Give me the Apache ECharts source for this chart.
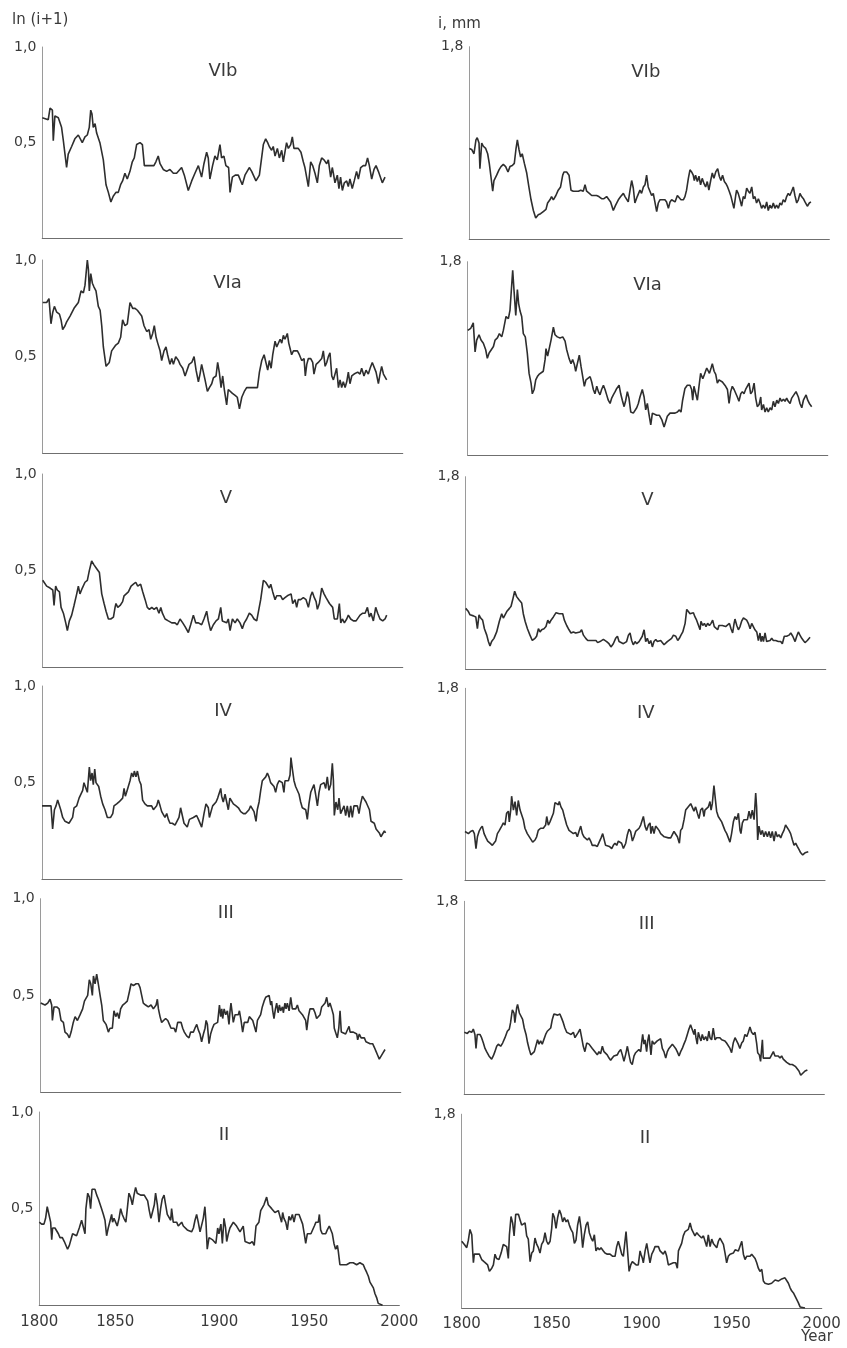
<!DOCTYPE html>
<html>
<head>
<meta charset="utf-8">
<script src="https://cdn.jsdelivr.net/npm/echarts@6/dist/echarts.min.js"></script>
<style>
  html, body { margin: 0; padding: 0; background: #ffffff; }
  #chart { width: 847px; height: 1348px; }
</style>
</head>
<body>
<div id="chart"></div>
<script>
// Tree-ring chronologies, 1800-1990, for six stand groups (VIb ... II).
// Left column: ln(i+1); right column: ring width i in mm. Points are [year, value].

const panelNames = ['VIb', 'VIa', 'V', 'IV', 'III', 'II'];
const yearTicks = [1800, 1850, 1900, 1950, 2000];
const lnTickLabels = { 0.5: '0,5', 1: '1,0' };
const mmTickLabels = { 1.8: '1,8' };

const lnVIb = [[1800,0.63],[1803.3,0.62],[1804.3,0.68],[1805.6,0.67],[1806.1,0.51],[1807,0.64],[1808.9,0.63],[1809.4,0.64],[1810.7,0.58],[1811.7,0.51],[1812.6,0.44],[1813.5,0.37],[1814.4,0.44],[1816.3,0.48],[1818.1,0.52],[1820,0.54],[1820.9,0.53],[1822.2,0.5],[1823.7,0.53],[1825,0.54],[1826.1,0.58],[1826.9,0.67],[1827.6,0.65],[1828.3,0.58],[1829.3,0.6],[1830.2,0.55],[1832,0.5],[1833.9,0.41],[1835.4,0.28],[1836.7,0.24],[1838.1,0.19],[1839.4,0.22],[1840.9,0.24],[1842.2,0.24],[1843.5,0.28],[1844.6,0.3],[1845.9,0.34],[1847.2,0.31],[1848.7,0.35],[1850,0.4],[1851.1,0.42],[1852.4,0.49],[1854.3,0.5],[1855.6,0.49],[1856.7,0.38],[1858,0.38],[1859.8,0.38],[1860.7,0.39],[1862,0.38],[1863.1,0.4],[1864.4,0.43],[1865.4,0.39],[1867.2,0.36],[1869.1,0.35],[1870.9,0.36],[1872.8,0.34],[1874.6,0.34],[1877.4,0.37],[1878.9,0.33],[1881.1,0.25],[1883,0.3],[1884.8,0.34],[1886.7,0.38],[1887.6,0.37],[1888.5,0.32],[1889.8,0.39],[1891.3,0.45],[1892.2,0.42],[1893.1,0.31],[1894.6,0.38],[1895.9,0.43],[1897.2,0.41],[1898.7,0.49],[1899.6,0.42],[1900.9,0.43],[1902,0.38],[1903.5,0.37],[1904.3,0.24],[1905.6,0.32],[1907.2,0.33],[1908.9,0.33],[1909.8,0.34],[1911.1,0.28],[1912.6,0.33],[1913.5,0.32],[1915,0.37],[1916.3,0.35],[1917.2,0.34],[1918.7,0.3],[1920.6,0.33],[1921.5,0.34],[1922.8,0.49],[1924.1,0.52],[1925.2,0.5],[1926.1,0.48],[1927.4,0.46],[1928.3,0.48],[1929.3,0.43],[1930.6,0.47],[1931.7,0.42],[1933,0.46],[1933.9,0.4],[1934.8,0.45],[1935.7,0.5],[1936.7,0.47],[1938,0.49],[1938.9,0.53],[1939.8,0.47],[1940.9,0.48],[1942.2,0.47],[1943.7,0.45],[1945,0.4],[1945.9,0.37],[1946.9,0.36],[1947.8,0.27],[1949.1,0.4],[1950.2,0.38],[1951.5,0.34],[1952.8,0.29],[1953.9,0.38],[1955.2,0.42],[1956.5,0.41],[1958,0.39],[1958.9,0.41],[1960.2,0.32],[1961.1,0.37],[1961.7,0.34],[1962.6,0.29],[1963.9,0.33],[1964.8,0.26],[1965.7,0.32],[1966.7,0.25],[1967.8,0.29],[1969.1,0.3],[1970,0.27],[1970.9,0.31],[1972.2,0.26],[1973.3,0.3],[1974.6,0.35],[1975.6,0.31],[1976.9,0.37],[1978.3,0.38],[1979.6,0.38],[1980.7,0.42],[1981.7,0.38],[1983,0.31],[1984.3,0.36],[1985.4,0.38],[1986.7,0.35],[1987.6,0.34],[1988.9,0.29],[1990.4,0.32]];

const lnVIa = [[1800,0.78],[1802.2,0.78],[1803.5,0.8],[1804.1,0.79],[1804.6,0.67],[1805.6,0.73],[1806.5,0.76],[1807.8,0.73],[1809.3,0.72],[1810.2,0.69],[1811.1,0.64],[1812.4,0.66],[1813.3,0.68],[1814.3,0.67],[1815.2,0.71],[1816.1,0.72],[1817.4,0.75],[1818.5,0.74],[1819.8,0.78],[1820.7,0.78],[1821.3,0.84],[1822.6,0.83],[1823.5,0.87],[1824.8,1.0],[1825.4,0.95],[1825.9,0.84],[1826.7,0.93],[1827.6,0.88],[1828.5,0.86],[1829.6,0.84],[1830.9,0.76],[1831.9,0.74],[1832.8,0.66],[1833.7,0.55],[1835.2,0.45],[1835.9,0.46],[1837,0.47],[1838.3,0.53],[1839.3,0.54],[1840.6,0.56],[1842,0.57],[1843.3,0.6],[1844.4,0.69],[1845.7,0.66],[1847,0.67],[1848.5,0.78],[1850,0.75],[1851.3,0.75],[1852.6,0.74],[1853.7,0.75],[1855,0.71],[1856.3,0.66],[1857.8,0.63],[1859.1,0.64],[1860,0.59],[1861.1,0.62],[1862,0.66],[1863,0.6],[1863.9,0.57],[1865.2,0.53],[1866.1,0.48],[1867.4,0.53],[1868.5,0.55],[1869.4,0.51],[1870.7,0.46],[1871.7,0.49],[1872.6,0.46],[1873.9,0.5],[1875.4,0.48],[1876.3,0.46],[1877.8,0.44],[1879.1,0.4],[1880,0.41],[1881.3,0.46],[1882.8,0.47],[1884.1,0.5],[1885.2,0.43],[1886.5,0.37],[1887.4,0.41],[1888.3,0.46],[1889.3,0.47],[1890.2,0.38],[1891.5,0.32],[1892.6,0.34],[1893.9,0.36],[1894.8,0.39],[1896.3,0.4],[1897.2,0.47],[1898.1,0.42],[1899.1,0.34],[1900,0.4],[1900.9,0.33],[1902.2,0.25],[1903.1,0.33],[1904.1,0.32],[1905.4,0.31],[1906.9,0.3],[1908.1,0.29],[1909.3,0.23],[1910.6,0.29],[1912,0.32],[1913.3,0.34],[1914.8,0.34],[1916.1,0.34],[1917.4,0.34],[1918.5,0.35],[1919.3,0.34],[1920.4,0.42],[1921.7,0.48],[1923,0.51],[1924.1,0.5],[1925,0.43],[1925.9,0.48],[1926.9,0.44],[1927.8,0.51],[1929.1,0.58],[1930,0.55],[1930.9,0.55],[1931.9,0.59],[1932.8,0.57],[1933.7,0.61],[1934.6,0.59],[1935.9,0.62],[1936.7,0.57],[1937.4,0.56],[1938.3,0.51],[1939.3,0.53],[1940.2,0.53],[1941.5,0.53],[1942.6,0.51],[1943.9,0.48],[1945.2,0.49],[1945.9,0.4],[1946.7,0.46],[1947.6,0.49],[1948.9,0.49],[1950,0.47],[1950.7,0.41],[1951.9,0.46],[1953.1,0.47],[1954.1,0.46],[1955,0.49],[1955.9,0.53],[1956.9,0.45],[1957.8,0.47],[1958.7,0.5],[1959.6,0.52],[1960.6,0.4],[1961.5,0.38],[1962.4,0.37],[1963.3,0.44],[1964.3,0.34],[1965.2,0.38],[1966.1,0.34],[1967,0.37],[1968,0.34],[1968.9,0.37],[1969.8,0.42],[1970.7,0.36],[1971.7,0.4],[1973,0.41],[1974.1,0.4],[1975,0.42],[1976.3,0.41],[1977.2,0.44],[1978.5,0.4],[1979.6,0.43],[1980.9,0.41],[1981.9,0.44],[1983.1,0.47],[1984.1,0.46],[1985.2,0.42],[1986.5,0.36],[1987.4,0.41],[1988.3,0.45],[1989.3,0.41],[1991.1,0.38]];

const lnV = [[1800,0.45],[1802.2,0.42],[1804.1,0.41],[1805.6,0.4],[1806.3,0.32],[1807.2,0.42],[1808.1,0.4],[1809.3,0.39],[1810.2,0.31],[1811.5,0.28],[1812.8,0.23],[1813.7,0.19],[1814.8,0.24],[1816.1,0.27],[1817.4,0.32],[1818.9,0.38],[1819.8,0.42],[1820.7,0.38],[1822,0.41],[1823.5,0.44],[1824.8,0.45],[1825.9,0.5],[1827.2,0.55],[1828.5,0.53],[1830,0.51],[1831.5,0.49],[1832.8,0.38],[1834.1,0.33],[1835.2,0.29],[1836.5,0.25],[1837.8,0.25],[1839.3,0.26],[1840.2,0.31],[1840.7,0.33],[1841.7,0.31],[1843,0.32],[1844.4,0.34],[1845.2,0.37],[1846.3,0.36],[1847.6,0.39],[1849.1,0.42],[1850.4,0.43],[1851.7,0.44],[1852.8,0.42],[1853.7,0.41],[1854.4,0.43],[1855.6,0.39],[1856.9,0.35],[1858.1,0.31],[1859.3,0.3],[1860.6,0.31],[1861.9,0.3],[1863.3,0.31],[1864.6,0.28],[1865.6,0.31],[1866.5,0.28],[1868,0.25],[1869.8,0.24],[1871.7,0.23],[1873.5,0.23],[1874.8,0.22],[1876.3,0.25],[1877.8,0.23],[1879.1,0.21],[1880.9,0.18],[1882.2,0.22],[1883.7,0.27],[1885,0.23],[1886.5,0.23],[1888.3,0.22],[1889.6,0.25],[1891.1,0.29],[1892,0.24],[1893.3,0.19],[1894.8,0.22],[1896.3,0.24],[1897.6,0.25],[1898.9,0.31],[1899.8,0.24],[1900.9,0.25],[1902.2,0.23],[1903.1,0.25],[1904.1,0.19],[1905.4,0.25],[1906.9,0.23],[1908.1,0.25],[1909.6,0.23],[1910.9,0.2],[1912,0.23],[1913.3,0.25],[1914.8,0.28],[1916.1,0.27],[1917.4,0.25],[1918.9,0.24],[1919.8,0.25],[1921.1,0.35],[1922.6,0.45],[1923.9,0.44],[1925,0.43],[1925.9,0.41],[1926.7,0.43],[1927.8,0.39],[1929.1,0.35],[1930,0.37],[1930.9,0.36],[1932.2,0.37],[1933.3,0.35],[1934.6,0.36],[1935.9,0.37],[1937,0.36],[1938,0.38],[1938.9,0.33],[1940.2,0.35],[1941.1,0.31],[1942,0.35],[1943.3,0.35],[1944.8,0.36],[1946.3,0.35],[1947.6,0.31],[1948.9,0.37],[1949.8,0.39],[1950.9,0.36],[1951.9,0.34],[1952.6,0.3],[1953.7,0.33],[1955,0.41],[1956.3,0.38],[1957.4,0.36],[1958.3,0.37],[1959.3,0.33],[1960.2,0.34],[1961.1,0.31],[1962,0.25],[1963,0.26],[1963.7,0.25],[1964.8,0.33],[1965.6,0.23],[1966.5,0.25],[1967.6,0.23],[1968.9,0.25],[1969.8,0.27],[1971.1,0.25],[1972.6,0.24],[1974.1,0.24],[1975,0.23],[1976.3,0.27],[1977.8,0.28],[1979.1,0.28],[1980.4,0.31],[1981.5,0.26],[1982.4,0.28],[1983.7,0.24],[1985,0.31],[1986.1,0.28],[1987.4,0.25],[1988.9,0.24],[1990.2,0.25],[1991.1,0.27]];

const lnIV = [[1800,0.38],[1801.7,0.38],[1803,0.38],[1804.1,0.39],[1805,0.38],[1805.9,0.26],[1806.9,0.36],[1807.8,0.38],[1808.7,0.41],[1809.6,0.42],[1810.4,0.36],[1811.5,0.32],[1812.8,0.3],[1813.7,0.29],[1815,0.29],[1816.1,0.28],[1817,0.32],[1817.8,0.37],[1819.3,0.38],[1820.6,0.42],[1821.7,0.43],[1822.6,0.46],[1823.3,0.5],[1824.3,0.49],[1825.2,0.45],[1825.7,0.51],[1826.3,0.58],[1827,0.51],[1827.8,0.55],[1828.5,0.49],[1829.3,0.57],[1830,0.5],[1830.7,0.51],[1831.5,0.48],[1832.6,0.43],[1833.7,0.39],[1835,0.36],[1836.3,0.32],[1837.2,0.31],[1838.1,0.32],[1839.3,0.34],[1840,0.38],[1841.5,0.39],[1842.8,0.4],[1843.7,0.4],[1844.8,0.42],[1845.6,0.47],[1846.3,0.43],[1847,0.45],[1848,0.45],[1848.9,0.51],[1849.8,0.55],[1850.7,0.53],[1851.3,0.56],[1852.2,0.53],[1853,0.56],[1854.1,0.51],[1855,0.49],[1855.9,0.41],[1857.2,0.39],[1858.5,0.38],[1859.6,0.38],[1860.9,0.38],[1861.9,0.36],[1862.8,0.35],[1863.7,0.38],[1864.6,0.41],[1865.6,0.38],[1866.5,0.35],[1867.4,0.34],[1868.3,0.32],[1869.3,0.34],[1870.2,0.31],[1871.1,0.29],[1872.4,0.29],[1873.9,0.28],[1874.8,0.29],[1876.1,0.32],[1877,0.37],[1878.1,0.36],[1878.9,0.29],[1880,0.28],[1880.7,0.27],[1881.9,0.31],[1882.8,0.3],[1884.1,0.32],[1885,0.32],[1885.9,0.33],[1886.9,0.31],[1887.8,0.32],[1888.7,0.27],[1890,0.34],[1891.1,0.39],[1892.4,0.37],[1893,0.32],[1893.9,0.35],[1894.8,0.38],[1895.7,0.39],[1896.7,0.4],[1897.6,0.42],[1898.5,0.43],[1899.3,0.47],[1899.8,0.43],[1900.7,0.4],[1901.7,0.44],[1902.6,0.4],[1903.5,0.36],[1904.4,0.42],[1905.4,0.41],[1906.3,0.39],[1907.8,0.38],[1909.1,0.37],[1910.4,0.35],[1911.9,0.34],[1913.1,0.34],[1914.1,0.34],[1915,0.36],[1915.9,0.38],[1917,0.38],[1917.8,0.35],[1918.9,0.3],[1919.6,0.36],[1920.6,0.4],[1921.5,0.46],[1922.4,0.51],[1923.3,0.52],[1924.3,0.53],[1925.2,0.55],[1926.1,0.53],[1927,0.5],[1928,0.51],[1928.9,0.48],[1929.8,0.45],[1930.7,0.49],[1931.7,0.51],[1932.6,0.51],[1933.5,0.5],[1934.4,0.45],[1935,0.51],[1935.9,0.52],[1936.9,0.51],[1937.8,0.54],[1938.3,0.63],[1939.1,0.57],[1940,0.51],[1940.9,0.48],[1941.9,0.49],[1942.8,0.44],[1943.7,0.4],[1944.6,0.37],[1945.6,0.36],[1946.5,0.36],[1947.4,0.31],[1948.3,0.39],[1949.3,0.45],[1950.2,0.46],[1951.1,0.49],[1952,0.44],[1953,0.38],[1953.9,0.45],[1954.8,0.49],[1955.7,0.48],[1956.7,0.5],[1957.6,0.47],[1958.5,0.53],[1959.4,0.46],[1960.4,0.49],[1961.3,0.6],[1961.9,0.51],[1962.4,0.33],[1963.3,0.4],[1964.3,0.36],[1965,0.42],[1965.9,0.34],[1966.9,0.35],[1967.8,0.38],[1968.7,0.33],[1969.6,0.38],[1970.6,0.32],[1971.5,0.38],[1972.4,0.32],[1973.3,0.38],[1974.3,0.37],[1975.2,0.38],[1976.1,0.34],[1977,0.39],[1978,0.43],[1979.1,0.42],[1980,0.4],[1980.9,0.39],[1981.9,0.36],[1982.8,0.3],[1983.7,0.31],[1984.6,0.29],[1985.6,0.26],[1986.5,0.26],[1987.4,0.24],[1988.3,0.22],[1989.3,0.23],[1990.2,0.25],[1990.9,0.24]];

const lnIII = [[1800,0.46],[1802.4,0.45],[1803.9,0.46],[1805.2,0.48],[1806.1,0.45],[1806.5,0.37],[1807.4,0.44],[1808.9,0.44],[1810.2,0.43],[1811.3,0.37],[1812.6,0.36],[1813.5,0.31],[1814.8,0.3],[1815.9,0.28],[1816.9,0.31],[1818.1,0.36],[1819.1,0.39],[1820.4,0.37],[1821.9,0.4],[1823.3,0.43],[1824.3,0.47],[1825.2,0.47],[1826.1,0.5],[1827,0.58],[1827.8,0.56],[1828.7,0.5],[1829.3,0.6],[1830.2,0.56],[1831.1,0.61],[1832,0.56],[1833,0.5],[1833.9,0.45],[1834.8,0.37],[1836.3,0.35],[1837.6,0.31],[1838.5,0.33],[1839.8,0.33],[1840.7,0.42],[1841.7,0.39],[1842.6,0.41],[1843.5,0.38],[1844.4,0.43],[1845.6,0.45],[1846.9,0.46],[1848.1,0.47],[1849.3,0.52],[1850.2,0.56],[1851.5,0.55],[1853,0.56],[1854.3,0.56],[1855.2,0.54],[1856.1,0.5],[1857,0.46],[1858.3,0.45],[1859.8,0.44],[1861.3,0.45],[1862.6,0.43],[1863.1,0.42],[1864.1,0.45],[1864.8,0.48],[1865.4,0.43],[1866.3,0.39],[1867.2,0.36],[1868.1,0.37],[1869.4,0.38],[1870.6,0.37],[1871.5,0.35],[1872.4,0.33],[1873.3,0.32],[1874.1,0.33],[1875,0.31],[1876.1,0.36],[1877,0.37],[1878,0.36],[1878.9,0.33],[1879.8,0.31],[1881.1,0.29],[1882.4,0.28],[1883.3,0.31],[1884.8,0.31],[1885.7,0.33],[1886.7,0.35],[1887.6,0.32],[1888.5,0.3],[1889.4,0.26],[1890.4,0.3],[1891.3,0.33],[1891.9,0.37],[1892.6,0.35],[1893.5,0.25],[1894.4,0.3],[1895.4,0.33],[1896.3,0.35],[1897.4,0.34],[1898.3,0.36],[1899.3,0.45],[1900,0.39],[1900.6,0.43],[1901.1,0.38],[1901.9,0.43],[1902.8,0.4],[1903.7,0.42],[1904.6,0.35],[1905.2,0.42],[1905.7,0.46],[1906.5,0.4],[1907,0.36],[1908,0.4],[1908.9,0.41],[1909.8,0.4],[1910.4,0.42],[1911.3,0.37],[1912.2,0.31],[1913.1,0.36],[1914.1,0.37],[1915,0.36],[1915.9,0.39],[1916.9,0.4],[1917.8,0.37],[1918.7,0.34],[1919.6,0.31],[1920.4,0.37],[1921.3,0.38],[1922.2,0.4],[1923.1,0.44],[1924.1,0.47],[1925,0.49],[1925.9,0.5],[1926.9,0.5],[1927.8,0.45],[1928.3,0.47],[1928.9,0.42],[1929.6,0.38],[1930.4,0.43],[1931.1,0.46],[1931.9,0.41],[1932.6,0.45],[1933.3,0.42],[1934.3,0.44],[1934.8,0.41],[1935.7,0.46],[1936.3,0.43],[1937,0.46],[1938,0.42],[1938.9,0.49],[1939.8,0.43],[1940.7,0.43],[1941.7,0.43],[1942.6,0.45],[1943.5,0.42],[1944.4,0.41],[1945.4,0.4],[1946.3,0.39],[1947.2,0.37],[1947.8,0.32],[1948.7,0.39],[1949.6,0.43],[1950.6,0.43],[1951.5,0.43],[1952.4,0.41],[1953.3,0.38],[1954.3,0.37],[1955.2,0.4],[1956.1,0.44],[1957,0.43],[1958,0.46],[1958.9,0.49],[1959.8,0.44],[1960.7,0.46],[1961.7,0.43],[1962.6,0.4],[1963.1,0.33],[1964.1,0.32],[1964.8,0.28],[1965.6,0.33],[1966.3,0.42],[1967,0.31],[1968.1,0.3],[1969.4,0.3],[1970.4,0.3],[1971.3,0.34],[1971.9,0.31],[1972.8,0.3],[1973.7,0.31],[1974.6,0.31],[1975.6,0.3],[1976.1,0.27],[1977,0.3],[1978,0.28],[1978.9,0.27],[1979.8,0.28],[1980.7,0.26],[1981.7,0.25],[1983,0.25],[1984.4,0.25],[1985.4,0.23],[1986.3,0.21],[1987.2,0.19],[1988.1,0.17],[1989.1,0.18],[1990,0.2],[1991.3,0.22]];

const lnII = [[1800,0.43],[1801.3,0.42],[1802.6,0.42],[1803.5,0.45],[1804.4,0.51],[1805.4,0.5],[1806.3,0.43],[1806.9,0.34],[1807.4,0.4],[1808.7,0.4],[1809.6,0.4],[1810.6,0.37],[1811.5,0.35],[1812.8,0.35],[1813.9,0.33],[1814.8,0.32],[1815.7,0.29],[1816.7,0.31],[1817.6,0.31],[1818.5,0.37],[1819.4,0.37],[1820.7,0.36],[1822.2,0.4],[1823.5,0.44],[1824.4,0.45],[1825.4,0.37],[1825.9,0.5],[1826.9,0.58],[1827.8,0.56],[1828.5,0.5],[1829.3,0.6],[1830,0.61],[1830.9,0.6],[1831.9,0.57],[1832.8,0.55],[1833.7,0.56],[1834.6,0.5],[1835.6,0.47],[1836.5,0.44],[1837.4,0.36],[1838.3,0.4],[1839.3,0.41],[1840.2,0.47],[1840.7,0.43],[1841.5,0.45],[1842.4,0.43],[1843.3,0.41],[1844.3,0.45],[1845.2,0.5],[1846.1,0.47],[1847,0.45],[1848.1,0.43],[1848.9,0.5],[1849.8,0.58],[1850.7,0.56],[1851.7,0.52],[1852.6,0.57],[1853.5,0.61],[1854.4,0.58],[1855.4,0.59],[1856.3,0.57],[1857.4,0.58],[1858.3,0.57],[1859.3,0.56],[1860.2,0.54],[1861.1,0.49],[1862,0.45],[1863,0.44],[1863.9,0.52],[1864.6,0.58],[1865.6,0.52],[1866.5,0.43],[1867.4,0.5],[1868.3,0.55],[1869.3,0.57],[1870.2,0.52],[1871.1,0.47],[1872,0.46],[1873,0.44],[1873.5,0.5],[1874.4,0.43],[1875.4,0.42],[1876.3,0.43],[1877.2,0.41],[1878.1,0.41],[1879.1,0.43],[1880,0.41],[1880.9,0.4],[1882.2,0.39],[1883.3,0.38],[1884.6,0.38],[1885.6,0.4],[1886.5,0.44],[1887.4,0.47],[1888.3,0.43],[1889.3,0.38],[1890.2,0.37],[1891.1,0.45],[1892,0.51],[1892.6,0.43],[1893.3,0.29],[1894.3,0.35],[1895.2,0.36],[1896.1,0.34],[1897,0.33],[1898.1,0.32],[1899.1,0.4],[1899.8,0.37],[1900.4,0.36],[1900.9,0.42],[1901.7,0.32],[1902.6,0.45],[1903.5,0.4],[1904.1,0.33],[1905,0.37],[1905.9,0.4],[1906.9,0.39],[1907.8,0.43],[1908.7,0.42],[1909.6,0.41],[1910.6,0.42],[1911.5,0.38],[1912.4,0.39],[1913.3,0.41],[1914.3,0.33],[1915.2,0.32],[1917,0.32],[1918.3,0.33],[1919.4,0.31],[1920.4,0.41],[1921.1,0.42],[1922,0.43],[1923,0.49],[1923.9,0.5],[1924.8,0.52],[1925.7,0.51],[1926.3,0.56],[1927.2,0.52],[1928.1,0.53],[1929.1,0.5],[1930,0.49],[1930.9,0.48],[1931.9,0.48],[1932.8,0.49],[1933.7,0.46],[1934.6,0.43],[1935.2,0.48],[1935.9,0.45],[1936.9,0.43],[1937.8,0.39],[1938.7,0.46],[1939.6,0.44],[1940.6,0.47],[1941.5,0.43],[1942.4,0.47],[1943.3,0.47],[1944.3,0.47],[1945.4,0.47],[1946.3,0.42],[1947.2,0.37],[1948,0.32],[1948.9,0.37],[1950,0.38],[1950.9,0.37],[1951.9,0.38],[1952.8,0.41],[1953.7,0.43],[1954.4,0.42],[1955,0.43],[1955.6,0.47],[1956.3,0.39],[1957.2,0.37],[1958.1,0.37],[1959.1,0.37],[1960,0.39],[1961.1,0.41],[1961.9,0.4],[1962.8,0.37],[1963.7,0.32],[1964.6,0.29],[1965.6,0.31],[1966.1,0.28],[1967,0.21],[1968,0.2],[1968.9,0.21],[1969.8,0.2],[1970.7,0.21],[1971.7,0.2],[1972.6,0.22],[1973.5,0.23],[1974.4,0.22],[1975.4,0.21],[1976.3,0.21],[1977.2,0.22],[1978.1,0.22],[1979.1,0.22],[1980,0.21],[1980.9,0.19],[1981.9,0.17],[1982.8,0.15],[1983.7,0.12],[1984.6,0.12],[1985.6,0.09],[1986.5,0.06],[1987.4,0.04],[1988.3,0.01],[1989.3,0],[1990.7,0]];

const mmVIb = [[1800,0.85],[1801.3,0.84],[1802.6,0.8],[1803.7,0.93],[1804.4,0.95],[1805.4,0.9],[1805.9,0.66],[1806.9,0.9],[1807.8,0.87],[1809.1,0.85],[1810.2,0.8],[1811.1,0.71],[1812,0.59],[1813,0.45],[1813.7,0.55],[1815.2,0.6],[1816.5,0.65],[1817.6,0.68],[1818.9,0.7],[1820.2,0.68],[1821.5,0.63],[1822.6,0.68],[1823.9,0.69],[1825,0.71],[1825.9,0.84],[1826.7,0.93],[1827.6,0.84],[1828.5,0.77],[1829.4,0.8],[1830.6,0.71],[1831.9,0.62],[1833.1,0.49],[1834.3,0.37],[1835.6,0.27],[1836.9,0.2],[1838.3,0.23],[1839.6,0.24],[1841.1,0.26],[1842.6,0.28],[1843.5,0.34],[1844.8,0.37],[1845.7,0.4],[1846.7,0.37],[1848.1,0.41],[1849.4,0.46],[1850.7,0.49],[1851.9,0.6],[1852.6,0.63],[1854.1,0.63],[1855.4,0.6],[1856.5,0.46],[1857.8,0.45],[1859.3,0.45],[1860.6,0.45],[1861.9,0.46],[1863.3,0.45],[1864.3,0.51],[1865.2,0.45],[1866.7,0.43],[1868,0.41],[1869.3,0.41],[1870.7,0.41],[1872,0.4],[1873.5,0.38],[1874.8,0.38],[1876.3,0.4],[1877.2,0.41],[1878.5,0.35],[1880,0.27],[1881.3,0.32],[1882.8,0.37],[1884.1,0.4],[1885.6,0.43],[1886.5,0.4],[1887.4,0.41],[1888.3,0.35],[1889.3,0.46],[1890.2,0.55],[1891.1,0.48],[1892,0.34],[1893.3,0.4],[1894.8,0.46],[1895.7,0.43],[1896.7,0.49],[1897.6,0.51],[1898.5,0.6],[1899.4,0.49],[1900.4,0.48],[1901.3,0.41],[1902.2,0.43],[1903.1,0.35],[1904.1,0.26],[1905,0.34],[1905.9,0.37],[1907.4,0.37],[1908.7,0.37],[1909.6,0.35],[1910.6,0.29],[1911.5,0.35],[1912.4,0.37],[1913.3,0.38],[1914.3,0.35],[1915.6,0.41],[1916.7,0.41],[1917.6,0.37],[1918.9,0.37],[1919.8,0.4],[1920.7,0.46],[1921.7,0.57],[1922.6,0.65],[1923.5,0.63],[1924.4,0.6],[1925,0.55],[1925.7,0.6],[1926.7,0.54],[1927.6,0.59],[1928.5,0.51],[1929.4,0.57],[1930.4,0.52],[1931.3,0.49],[1932.2,0.54],[1933.1,0.46],[1934.1,0.55],[1935,0.62],[1935.9,0.57],[1936.9,0.63],[1938,0.66],[1938.9,0.59],[1939.8,0.55],[1940.7,0.6],[1941.7,0.54],[1942.6,0.52],[1943.5,0.49],[1944.4,0.45],[1945.4,0.4],[1946.3,0.41],[1947,0.29],[1948,0.41],[1948.5,0.46],[1949.4,0.43],[1950.4,0.37],[1951.3,0.31],[1952.2,0.4],[1953.1,0.38],[1954.1,0.48],[1955,0.45],[1955.9,0.43],[1956.9,0.49],[1957.8,0.38],[1958.7,0.4],[1959.6,0.34],[1960.6,0.38],[1961.5,0.34],[1962.4,0.29],[1963.3,0.32],[1964.3,0.29],[1965.2,0.35],[1966.1,0.27],[1967,0.32],[1968,0.29],[1968.9,0.34],[1969.8,0.29],[1970.7,0.32],[1971.7,0.29],[1972.6,0.34],[1973.5,0.32],[1974.4,0.37],[1975.4,0.35],[1976.3,0.4],[1977.2,0.43],[1978.1,0.41],[1979.1,0.45],[1980,0.49],[1980.9,0.41],[1981.9,0.34],[1982.8,0.37],[1983.7,0.43],[1984.6,0.4],[1985.6,0.38],[1986.5,0.35],[1987.8,0.31],[1988.9,0.34],[1989.8,0.35]];

const mmVIa = [[1800,1.16],[1801.7,1.18],[1803.1,1.23],[1804.1,0.96],[1805,1.07],[1806.3,1.12],[1807.4,1.07],[1808.7,1.04],[1810,0.98],[1810.9,0.9],[1811.9,0.95],[1813,0.96],[1814.3,1.01],[1815.2,1.07],[1816.5,1.09],[1817.6,1.13],[1818.9,1.1],[1819.8,1.16],[1821.3,1.29],[1822.6,1.27],[1823.5,1.35],[1825,1.72],[1825.7,1.54],[1826.7,1.3],[1827.6,1.54],[1828.3,1.41],[1829.1,1.34],[1830,1.29],[1830.9,1.13],[1832,1.1],[1833.1,0.95],[1834.1,0.76],[1835.2,0.67],[1835.9,0.57],[1836.9,0.61],[1837.8,0.7],[1838.7,0.73],[1839.6,0.75],[1840.7,0.76],[1842,0.78],[1843,0.89],[1843.5,0.99],[1844.4,0.92],[1845.4,0.93],[1846.3,1.07],[1847.6,1.19],[1848.5,1.12],[1849.8,1.1],[1851.3,1.09],[1852.8,1.1],[1854.1,1.06],[1855,0.98],[1856.3,0.9],[1857.4,0.85],[1858.3,0.89],[1859.3,0.84],[1860,0.78],[1860.9,0.85],[1862,0.93],[1863,0.82],[1863.9,0.73],[1864.8,0.64],[1865.7,0.7],[1866.7,0.71],[1868,0.73],[1868.9,0.68],[1869.8,0.61],[1870.7,0.57],[1871.7,0.64],[1872.6,0.59],[1873.5,0.56],[1874.4,0.61],[1875.4,0.65],[1876.3,0.61],[1877.2,0.56],[1878.1,0.51],[1879.1,0.48],[1880,0.53],[1880.9,0.56],[1881.9,0.59],[1882.8,0.62],[1884.1,0.65],[1885,0.57],[1885.9,0.51],[1886.9,0.45],[1887.8,0.51],[1888.7,0.59],[1889.6,0.53],[1890.6,0.4],[1892,0.39],[1893,0.4],[1893.9,0.44],[1894.8,0.48],[1895.7,0.54],[1897,0.61],[1898,0.54],[1898.9,0.42],[1899.8,0.48],[1900.6,0.39],[1901.7,0.28],[1902.6,0.39],[1903.5,0.39],[1905,0.37],[1906.5,0.37],[1907.8,0.33],[1909.1,0.26],[1910,0.31],[1910.9,0.36],[1912.4,0.39],[1913.9,0.39],[1915.2,0.39],[1916.5,0.4],[1917.6,0.42],[1918.5,0.4],[1919.4,0.51],[1920.7,0.62],[1922,0.65],[1923.5,0.65],[1924.4,0.61],[1925,0.51],[1925.7,0.64],[1926.7,0.57],[1927.6,0.51],[1928.5,0.64],[1929.4,0.76],[1930.6,0.71],[1931.5,0.75],[1932.8,0.81],[1933.7,0.82],[1934.3,0.76],[1935.2,0.81],[1935.9,0.85],[1936.9,0.78],[1937.8,0.75],[1938.7,0.67],[1939.6,0.7],[1940.6,0.71],[1941.5,0.68],[1942.4,0.67],[1943.3,0.64],[1944.3,0.61],[1945.2,0.48],[1946.1,0.59],[1947,0.64],[1948,0.61],[1948.9,0.61],[1949.8,0.54],[1950.7,0.5],[1951.7,0.57],[1952.6,0.59],[1953.5,0.57],[1954.4,0.61],[1955.4,0.62],[1956.3,0.67],[1957.2,0.57],[1958.1,0.59],[1959.1,0.67],[1960,0.53],[1960.9,0.45],[1961.9,0.47],[1962.8,0.54],[1963.3,0.42],[1964.3,0.47],[1965.2,0.4],[1966.1,0.44],[1967,0.4],[1968,0.44],[1968.9,0.42],[1969.8,0.5],[1970.7,0.45],[1971.7,0.51],[1972.6,0.48],[1973.5,0.53],[1974.4,0.5],[1975.4,0.52],[1976.3,0.5],[1977.2,0.53],[1978.1,0.5],[1979.1,0.48],[1980,0.53],[1980.9,0.54],[1982.4,0.59],[1983.7,0.54],[1984.6,0.48],[1985.6,0.44],[1986.5,0.51],[1988,0.56],[1988.9,0.51],[1989.8,0.48],[1991.1,0.45]];

const mmV = [[1800,0.57],[1801.5,0.54],[1802.4,0.51],[1804.3,0.5],[1805.6,0.49],[1806.5,0.38],[1807.4,0.51],[1808.3,0.48],[1809.4,0.46],[1810.4,0.38],[1811.7,0.32],[1812.6,0.26],[1813.5,0.22],[1814.4,0.26],[1815.7,0.29],[1817.2,0.35],[1818.7,0.45],[1820,0.52],[1820.9,0.48],[1821.9,0.48],[1822.8,0.54],[1824.3,0.57],[1825.2,0.59],[1826.1,0.65],[1827.2,0.73],[1828.3,0.68],[1829.6,0.65],[1831.1,0.62],[1832,0.52],[1833,0.45],[1834.3,0.38],[1835.7,0.32],[1837,0.27],[1838.5,0.29],[1839.4,0.31],[1840.4,0.38],[1841.3,0.35],[1842.2,0.37],[1843.5,0.38],[1844.6,0.4],[1845.6,0.46],[1846.5,0.43],[1847.4,0.46],[1848.7,0.49],[1850.2,0.53],[1851.1,0.54],[1852,0.52],[1853,0.51],[1853.9,0.52],[1854.8,0.46],[1856.1,0.41],[1857.4,0.37],[1858.5,0.34],[1859.8,0.35],[1861.1,0.34],[1862.2,0.34],[1863.5,0.35],[1864.4,0.37],[1865.4,0.32],[1866.7,0.29],[1867.8,0.27],[1869.1,0.27],[1870.4,0.27],[1871.3,0.26],[1872.4,0.27],[1873.3,0.25],[1874.6,0.26],[1875.6,0.27],[1876.5,0.28],[1877.4,0.27],[1878.3,0.26],[1879.6,0.24],[1880.7,0.21],[1882,0.24],[1883.3,0.29],[1884.3,0.31],[1885.2,0.26],[1886.3,0.26],[1887.6,0.24],[1888.5,0.23],[1889.4,0.26],[1890.4,0.32],[1891.3,0.34],[1892.2,0.27],[1893.1,0.23],[1894.1,0.26],[1895,0.24],[1896.3,0.26],[1897.2,0.27],[1898.1,0.31],[1899.1,0.37],[1900,0.26],[1900.9,0.29],[1901.9,0.24],[1902.8,0.27],[1903.7,0.21],[1904.6,0.26],[1905.6,0.28],[1906.5,0.26],[1907.4,0.26],[1908.3,0.27],[1909.3,0.26],[1910.2,0.23],[1911.1,0.24],[1912,0.26],[1913.1,0.27],[1914.4,0.29],[1915.4,0.32],[1916.7,0.31],[1917.8,0.27],[1918.7,0.29],[1919.6,0.32],[1920.6,0.35],[1921.9,0.43],[1922.8,0.56],[1923.7,0.54],[1924.6,0.52],[1925.6,0.52],[1926.5,0.53],[1927.4,0.49],[1928.3,0.46],[1929.3,0.45],[1930.2,0.37],[1930.7,0.45],[1931.7,0.41],[1932.6,0.43],[1933.5,0.4],[1934.4,0.43],[1935.4,0.41],[1936.3,0.43],[1937.2,0.46],[1938.1,0.4],[1939.1,0.4],[1940,0.37],[1940.7,0.41],[1941.7,0.4],[1942.6,0.41],[1943.5,0.41],[1944.4,0.4],[1945.4,0.41],[1946.5,0.43],[1947.4,0.38],[1948.3,0.34],[1949.1,0.43],[1949.6,0.47],[1950.6,0.41],[1951.5,0.37],[1952.4,0.4],[1953.3,0.45],[1954.3,0.48],[1955.2,0.49],[1956.1,0.46],[1957,0.43],[1958,0.38],[1958.9,0.43],[1959.8,0.4],[1960.7,0.37],[1961.7,0.35],[1962.6,0.27],[1963.5,0.34],[1964.1,0.26],[1964.8,0.31],[1965.4,0.26],[1966.3,0.34],[1967.2,0.26],[1968.1,0.25],[1969.1,0.27],[1970,0.29],[1970.9,0.27],[1972.2,0.27],[1973.7,0.26],[1975,0.26],[1975.9,0.24],[1977,0.31],[1978.3,0.31],[1979.6,0.32],[1980.6,0.34],[1981.7,0.31],[1983,0.26],[1983.9,0.31],[1984.8,0.35],[1985.7,0.32],[1986.7,0.29],[1987.6,0.27],[1988.5,0.25],[1989.8,0.27],[1991.3,0.3]];

const mmIV = [[1800,0.46],[1801.9,0.44],[1803.1,0.46],[1804.3,0.47],[1805.2,0.44],[1806.1,0.3],[1806.9,0.41],[1807.8,0.46],[1808.7,0.49],[1809.6,0.51],[1810.6,0.44],[1811.7,0.4],[1812.6,0.37],[1813.9,0.35],[1815.2,0.33],[1816.1,0.32],[1817,0.37],[1818,0.44],[1819.1,0.47],[1820.4,0.51],[1821.3,0.54],[1822.2,0.52],[1823.1,0.63],[1824.1,0.65],[1824.6,0.55],[1825.4,0.66],[1825.9,0.79],[1826.9,0.66],[1827.8,0.74],[1828.7,0.61],[1829.6,0.75],[1830.6,0.66],[1831.5,0.66],[1832.4,0.57],[1833.3,0.49],[1834.6,0.44],[1836.1,0.4],[1837.6,0.36],[1838.9,0.38],[1839.8,0.41],[1840.7,0.47],[1842,0.49],[1843.5,0.49],[1844.8,0.52],[1845.4,0.6],[1846.3,0.52],[1847.2,0.55],[1848.1,0.55],[1849.1,0.63],[1850,0.73],[1850.9,0.72],[1851.9,0.71],[1852.4,0.74],[1853.3,0.69],[1854.3,0.66],[1855.2,0.6],[1856.5,0.52],[1857.8,0.47],[1858.9,0.46],[1860.2,0.44],[1861.5,0.45],[1862.4,0.41],[1863.3,0.46],[1864.3,0.51],[1865.2,0.44],[1866.1,0.41],[1867,0.4],[1868,0.38],[1868.9,0.4],[1869.8,0.37],[1870.7,0.33],[1872.2,0.33],[1873.5,0.32],[1874.6,0.33],[1875.6,0.4],[1876.5,0.44],[1877.4,0.43],[1878.1,0.33],[1879.1,0.32],[1880.2,0.32],[1881.5,0.3],[1882.4,0.33],[1883.3,0.35],[1884.3,0.33],[1885.2,0.37],[1886.1,0.38],[1887,0.35],[1888,0.3],[1889.3,0.35],[1890.2,0.43],[1891.1,0.48],[1892,0.46],[1893,0.37],[1893.9,0.41],[1894.8,0.46],[1895.7,0.47],[1896.7,0.49],[1897.6,0.52],[1898.5,0.53],[1899.1,0.6],[1900,0.51],[1900.9,0.47],[1901.9,0.52],[1902.8,0.54],[1903.3,0.44],[1904.1,0.51],[1905,0.44],[1905.9,0.51],[1906.9,0.49],[1907.8,0.47],[1908.7,0.44],[1909.6,0.43],[1910.7,0.41],[1911.7,0.4],[1913,0.4],[1914.3,0.4],[1915.2,0.41],[1916.1,0.46],[1917,0.46],[1918,0.41],[1919.1,0.35],[1919.8,0.47],[1920.7,0.49],[1921.7,0.57],[1922.6,0.66],[1923.5,0.68],[1924.4,0.69],[1925.4,0.72],[1926.3,0.71],[1927.2,0.65],[1928.1,0.69],[1929.1,0.63],[1930,0.58],[1930.9,0.66],[1931.9,0.68],[1932.8,0.6],[1933.3,0.66],[1934.3,0.66],[1935.2,0.69],[1936.1,0.74],[1936.7,0.66],[1937.4,0.72],[1938.3,0.89],[1939.1,0.76],[1939.8,0.65],[1940.7,0.6],[1941.7,0.61],[1942.6,0.55],[1943.5,0.51],[1944.4,0.47],[1945.4,0.44],[1946.3,0.43],[1947.2,0.36],[1948.1,0.44],[1949.1,0.55],[1950,0.6],[1950.9,0.57],[1951.9,0.63],[1952.8,0.47],[1953.3,0.44],[1954.1,0.54],[1955,0.57],[1955.9,0.58],[1956.9,0.57],[1957.8,0.65],[1958.7,0.58],[1959.6,0.66],[1960.6,0.57],[1961.5,0.82],[1962,0.69],[1962.6,0.38],[1963.3,0.51],[1964.3,0.43],[1965.2,0.47],[1966.1,0.41],[1967,0.46],[1968,0.41],[1968.9,0.46],[1969.8,0.4],[1970.7,0.46],[1971.7,0.37],[1972.6,0.46],[1973.5,0.41],[1974.4,0.43],[1975.4,0.4],[1976.3,0.44],[1977.2,0.47],[1978.1,0.52],[1979.1,0.51],[1980,0.47],[1980.9,0.44],[1981.9,0.38],[1982.8,0.33],[1983.7,0.35],[1984.6,0.32],[1985.6,0.29],[1986.5,0.26],[1987.6,0.24],[1988.9,0.26],[1989.8,0.26],[1990.7,0.27]];

const mmIII = [[1800,0.58],[1801.7,0.57],[1802.8,0.59],[1804.1,0.58],[1805,0.61],[1805.9,0.56],[1806.5,0.43],[1807.2,0.56],[1808.7,0.56],[1809.6,0.53],[1810.6,0.48],[1811.5,0.43],[1812.4,0.4],[1813.7,0.36],[1815.2,0.33],[1816.1,0.36],[1817,0.4],[1818,0.45],[1818.9,0.47],[1820.2,0.45],[1821.3,0.48],[1822.6,0.53],[1823.9,0.59],[1825,0.61],[1825.7,0.67],[1826.7,0.79],[1827.6,0.76],[1828.1,0.67],[1829.1,0.81],[1829.6,0.84],[1830.6,0.76],[1831.5,0.76],[1832.4,0.7],[1833.3,0.62],[1834.3,0.56],[1835.2,0.48],[1836.1,0.42],[1837,0.37],[1838,0.36],[1838.9,0.4],[1839.8,0.39],[1840.7,0.51],[1841.5,0.47],[1842.4,0.5],[1843.3,0.47],[1844.3,0.48],[1845.2,0.56],[1846.1,0.59],[1847,0.58],[1848,0.62],[1848.9,0.7],[1849.8,0.75],[1850.9,0.75],[1851.9,0.74],[1853.1,0.75],[1854.1,0.71],[1855,0.67],[1855.9,0.62],[1856.9,0.58],[1858.1,0.57],[1859.3,0.56],[1860.6,0.58],[1861.5,0.53],[1862.4,0.54],[1863.3,0.58],[1864.3,0.61],[1865.2,0.53],[1866.1,0.45],[1867,0.4],[1868,0.48],[1869.3,0.47],[1870.2,0.47],[1871.1,0.43],[1872,0.42],[1873,0.39],[1873.9,0.37],[1874.8,0.4],[1875.7,0.38],[1876.7,0.45],[1877.6,0.4],[1878.5,0.39],[1879.4,0.37],[1880.4,0.34],[1881.3,0.32],[1882.2,0.34],[1883.1,0.36],[1884.1,0.37],[1885,0.37],[1885.9,0.4],[1886.9,0.42],[1887.8,0.37],[1888.7,0.31],[1889.6,0.37],[1890.6,0.45],[1891.5,0.37],[1892.4,0.3],[1893.3,0.28],[1894.3,0.36],[1895.2,0.39],[1896.1,0.4],[1897,0.42],[1898,0.4],[1898.5,0.48],[1899.1,0.56],[1899.8,0.47],[1900.4,0.51],[1901.3,0.4],[1901.9,0.5],[1902.6,0.56],[1903.1,0.47],[1903.7,0.37],[1904.4,0.5],[1905.4,0.47],[1906.3,0.48],[1907.2,0.5],[1908.1,0.5],[1909.1,0.52],[1910,0.43],[1910.9,0.4],[1911.9,0.34],[1912.8,0.4],[1913.7,0.43],[1914.6,0.43],[1915.6,0.47],[1916.5,0.48],[1917.4,0.43],[1918.3,0.4],[1919.3,0.36],[1920.2,0.4],[1921.1,0.43],[1922,0.47],[1923,0.51],[1923.9,0.56],[1924.8,0.61],[1925.7,0.65],[1926.7,0.64],[1927.6,0.56],[1928.1,0.61],[1928.7,0.53],[1929.4,0.47],[1930,0.58],[1930.9,0.53],[1931.5,0.5],[1932.2,0.56],[1933.1,0.51],[1934.1,0.54],[1935,0.5],[1935.9,0.59],[1936.5,0.53],[1937.4,0.51],[1938.3,0.62],[1939.3,0.51],[1940.2,0.53],[1941.1,0.54],[1942,0.53],[1943,0.51],[1943.9,0.51],[1944.8,0.5],[1945.7,0.48],[1946.7,0.47],[1947.6,0.43],[1948.5,0.39],[1949.4,0.48],[1950.4,0.53],[1951.3,0.53],[1952.2,0.47],[1953.1,0.43],[1954.1,0.48],[1955,0.5],[1955.9,0.56],[1956.9,0.54],[1957.8,0.58],[1958.7,0.63],[1959.6,0.58],[1960.6,0.56],[1961.5,0.58],[1962.4,0.48],[1963,0.39],[1963.9,0.37],[1964.6,0.31],[1965.6,0.51],[1966.1,0.34],[1967,0.34],[1968.3,0.34],[1969.8,0.34],[1970.7,0.34],[1971.7,0.4],[1972.6,0.36],[1973.5,0.37],[1974.4,0.36],[1975.4,0.34],[1976.3,0.36],[1977.2,0.33],[1978.1,0.33],[1979.1,0.3],[1980,0.3],[1980.9,0.28],[1982.2,0.28],[1983.1,0.28],[1984.1,0.26],[1985,0.25],[1985.9,0.22],[1986.9,0.18],[1988,0.19],[1989.3,0.22],[1990.6,0.23]];

const mmII = [[1800,0.62],[1801.5,0.59],[1802.8,0.56],[1803.7,0.63],[1804.6,0.73],[1805.6,0.68],[1806.1,0.53],[1806.5,0.42],[1807,0.5],[1808.3,0.5],[1809.8,0.5],[1811.1,0.45],[1812.4,0.43],[1813.5,0.42],[1814.4,0.4],[1815.4,0.34],[1816.7,0.37],[1817.6,0.4],[1818.5,0.5],[1819.4,0.46],[1820.7,0.45],[1821.9,0.51],[1823.1,0.59],[1824.1,0.6],[1825,0.57],[1825.9,0.46],[1826.5,0.68],[1827.4,0.85],[1828.3,0.79],[1829.1,0.67],[1830,0.87],[1830.6,0.88],[1831.5,0.87],[1832.4,0.82],[1833.3,0.77],[1834.3,0.76],[1835.2,0.79],[1836.1,0.67],[1837,0.64],[1838,0.43],[1838.9,0.51],[1839.8,0.53],[1840.7,0.65],[1841.7,0.59],[1842.6,0.56],[1843.5,0.51],[1844.4,0.59],[1845.4,0.62],[1846.3,0.7],[1847.2,0.62],[1848.1,0.59],[1849.1,0.62],[1850,0.74],[1850.6,0.88],[1851.5,0.84],[1852.4,0.74],[1853.3,0.84],[1854.3,0.91],[1855.2,0.87],[1856.1,0.8],[1857,0.84],[1858,0.8],[1858.9,0.82],[1859.8,0.77],[1860.7,0.73],[1861.7,0.7],[1862.6,0.6],[1863.5,0.63],[1864.4,0.77],[1865.4,0.85],[1866.3,0.74],[1867.2,0.56],[1868.1,0.68],[1869.1,0.77],[1870,0.8],[1870.9,0.7],[1871.9,0.65],[1872.8,0.62],[1873.7,0.68],[1874.6,0.53],[1875.6,0.56],[1876.5,0.54],[1877.4,0.56],[1878.7,0.53],[1879.6,0.51],[1880.9,0.5],[1882.4,0.5],[1883.9,0.48],[1885.2,0.48],[1886.1,0.57],[1887,0.62],[1888,0.56],[1888.9,0.5],[1889.8,0.48],[1890.7,0.62],[1891.3,0.71],[1892,0.56],[1893,0.34],[1893.9,0.4],[1894.8,0.43],[1895.7,0.42],[1896.9,0.4],[1898.1,0.4],[1899.1,0.53],[1899.6,0.5],[1900.4,0.46],[1900.9,0.42],[1901.9,0.53],[1902.8,0.6],[1903.7,0.51],[1904.6,0.42],[1905.6,0.5],[1906.5,0.53],[1907.4,0.57],[1908.3,0.56],[1909.3,0.57],[1910.2,0.53],[1911.1,0.54],[1912,0.5],[1913,0.53],[1913.9,0.48],[1914.8,0.4],[1915.7,0.41],[1917.6,0.42],[1918.9,0.42],[1919.8,0.37],[1920.4,0.53],[1921.3,0.53],[1922.2,0.6],[1923.1,0.67],[1924.1,0.71],[1925,0.7],[1925.9,0.73],[1926.9,0.79],[1927.8,0.73],[1928.7,0.74],[1929.6,0.67],[1930.6,0.7],[1931.5,0.68],[1932.4,0.67],[1933.3,0.65],[1934.3,0.67],[1935.2,0.62],[1936.1,0.57],[1937,0.68],[1938,0.57],[1938.9,0.64],[1939.8,0.6],[1940.7,0.59],[1941.7,0.56],[1942.6,0.62],[1943.5,0.65],[1944.4,0.65],[1945.4,0.59],[1946.3,0.51],[1947.2,0.42],[1948.1,0.48],[1949.1,0.5],[1950,0.5],[1950.9,0.51],[1951.9,0.54],[1952.8,0.53],[1953.7,0.53],[1954.6,0.54],[1955.6,0.62],[1956.5,0.5],[1957.4,0.45],[1958.3,0.48],[1959.3,0.48],[1960.2,0.48],[1961.1,0.5],[1962,0.51],[1963,0.46],[1963.9,0.42],[1964.8,0.37],[1965.7,0.34],[1966.7,0.36],[1967.6,0.25],[1968.5,0.23],[1969.4,0.23],[1970.4,0.22],[1971.3,0.22],[1972.2,0.23],[1973.1,0.24],[1974.1,0.26],[1975,0.25],[1975.9,0.25],[1976.9,0.26],[1977.8,0.27],[1978.7,0.28],[1979.6,0.28],[1980.6,0.28],[1981.5,0.23],[1982.4,0.19],[1983.3,0.16],[1984.3,0.14],[1985.2,0.11],[1986.1,0.08],[1987,0.05],[1988,0.01],[1988.9,0],[1990.7,0]];

const lnSeries = [lnVIb, lnVIa, lnV, lnIV, lnIII, lnII];
const mmSeries = [mmVIb, mmVIa, mmV, mmIV, mmIII, mmII];

// ---- page layout (pixels) ----
const PLOT_W = 360;
const leftCol = [
  { x: 42.3, top: 47,    h: 191.3, tx: 223,   ty: 71.7 },
  { x: 42.7, top: 260,   h: 193.3, tx: 227.5, ty: 283.3 },
  { x: 42.7, top: 474,   h: 193.3, tx: 225.8, ty: 498.3 },
  { x: 42,   top: 686,   h: 193.3, tx: 223,   ty: 711.7 },
  { x: 40.7, top: 898.7, h: 193.3, tx: 225.8, ty: 913 },
  { x: 39.3, top: 1112,  h: 193.3, tx: 224,   ty: 1135.5 }
];
const rightCol = [
  { x: 469.3, top: 46.7,   h: 192.7, tx: 645.8, ty: 72.5 },
  { x: 467.7, top: 261.7,  h: 193.3, tx: 647.5, ty: 285.8 },
  { x: 465.7, top: 476.7,  h: 192.7, tx: 647.5, ty: 500 },
  { x: 465,   top: 688.3,  h: 192.3, tx: 645.8, ty: 713.3 },
  { x: 464.3, top: 901.3,  h: 193.3, tx: 646.7, ty: 924.7 },
  { x: 461.7, top: 1114.2, h: 193.8, tx: 645,   ty: 1138 }
];

const FONT = 'DejaVu Sans';
const INK = '#2e2e2e';
const TEXT = '#3a3a3a';

const grids = [], xAxes = [], yAxes = [], series = [], graphics = [];

// In the left column the "1850" label sits a little left of its tick.
function yearLabel(shift1850) {
  return v => {
    if (!yearTicks.includes(v)) return '';
    return (shift1850 && v === 1850) ? '{lead|' + v + '}' : String(v);
  };
}

function addPanel(box, data, yMax, yInterval, tickLabels, isBottom, name, shift1850) {
  const i = grids.length;
  grids.push({ left: box.x, top: box.top, width: PLOT_W, height: box.h, containLabel: false });
  xAxes.push({
    type: 'value', gridIndex: i, min: yearTicks[0], max: yearTicks[yearTicks.length - 1],
    interval: yearTicks[1] - yearTicks[0],
    axisLine: { show: true, onZero: false, lineStyle: { color: '#6f6f6f', width: 1.2 } },
    axisTick: { show: false },
    splitLine: { show: false },
    axisLabel: {
      show: isBottom, margin: 9, fontFamily: FONT, fontSize: 15, color: TEXT,
      formatter: yearLabel(shift1850),
      rich: { lead: { fontFamily: FONT, fontSize: 15, color: TEXT, padding: [0, 28, 0, 0] } }
    }
  });
  yAxes.push({
    type: 'value', gridIndex: i, min: 0, max: yMax, interval: yInterval,
    axisLine: { show: true, lineStyle: { color: '#9a9a9a', width: 1 } },
    axisTick: { show: false },
    splitLine: { show: false },
    axisLabel: {
      margin: 6, fontFamily: FONT, fontSize: 14, color: TEXT,
      formatter: v => tickLabels[Math.round(v * 10) / 10] || ''
    }
  });
  series.push({
    type: 'line', xAxisIndex: i, yAxisIndex: i, data: data,
    showSymbol: false, symbol: 'none', smooth: false, animation: false,
    lineStyle: { color: INK, width: 1.6 }
  });
  graphics.push({
    type: 'text', x: box.tx, y: box.ty,
    style: { text: name, fill: TEXT, font: '18px "' + FONT + '"', textAlign: 'center', textVerticalAlign: 'middle' }
  });
}

for (let r = 0; r < panelNames.length; r++) {
  const bottom = r === panelNames.length - 1;
  addPanel(leftCol[r], lnSeries[r], 1, 0.5, lnTickLabels, bottom, panelNames[r], true);
  addPanel(rightCol[r], mmSeries[r], 1.8, 1.8, mmTickLabels, bottom, panelNames[r], false);
}

// column headers and the time-axis title
graphics.push(
  { type: 'text', x: 12, y: 20, style: { text: 'ln (i+1)', fill: TEXT, font: '15px "' + FONT + '"', textAlign: 'left', textVerticalAlign: 'middle' } },
  { type: 'text', x: 438, y: 24, style: { text: 'i, mm', fill: TEXT, font: '15px "' + FONT + '"', textAlign: 'left', textVerticalAlign: 'middle' } },
  { type: 'text', x: 817, y: 1337, style: { text: 'Year', fill: TEXT, font: '15px "' + FONT + '"', textAlign: 'center', textVerticalAlign: 'middle' } }
);

const chart = echarts.init(document.getElementById('chart'), null, { renderer: 'canvas' });
chart.setOption({
  backgroundColor: '#ffffff',
  animation: false,
  grid: grids,
  xAxis: xAxes,
  yAxis: yAxes,
  series: series,
  graphic: graphics
});
</script>
</body>
</html>
